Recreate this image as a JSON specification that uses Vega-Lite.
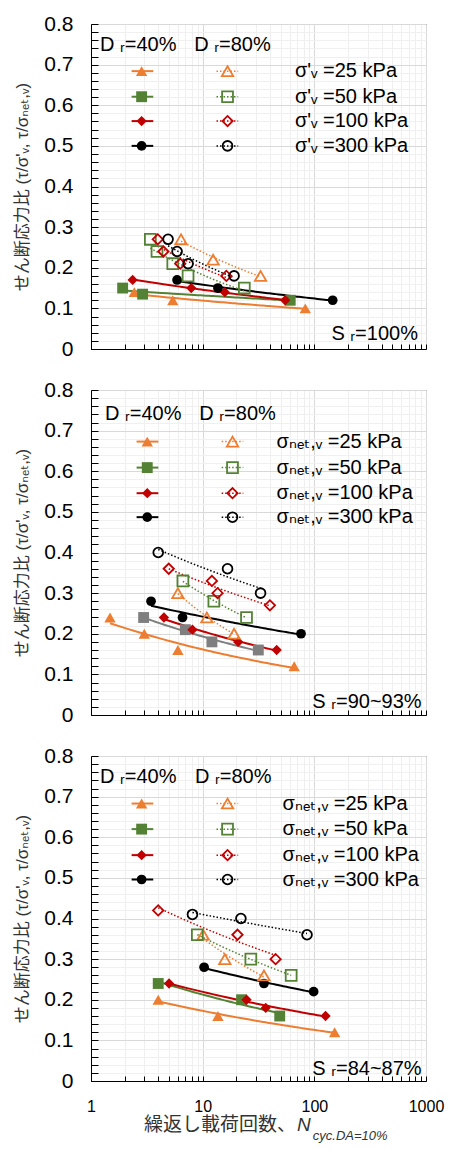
{
  "$schema": "https://vega.github.io/schema/vega-lite/v6.json",
  "background": "white",
  "padding": {"left": 13, "top": 12, "right": 5, "bottom": 5},
  "spacing": 18,
  "config": {
    "font": "Liberation Sans, Noto Sans CJK JP, DejaVu Sans",
    "view": {"stroke": "#404040", "strokeWidth": 1}
  },
  "datasets": {
    "pts": [
      {"panel": 1, "Dr": "40%", "sigma": "25", "N": 2.44, "ratio": 0.14},
      {"panel": 1, "Dr": "40%", "sigma": "25", "N": 5.4, "ratio": 0.12},
      {"panel": 1, "Dr": "40%", "sigma": "25", "N": 83, "ratio": 0.10},
      {"panel": 1, "Dr": "40%", "sigma": "50", "N": 1.92, "ratio": 0.15},
      {"panel": 1, "Dr": "40%", "sigma": "50", "N": 2.9, "ratio": 0.135},
      {"panel": 1, "Dr": "40%", "sigma": "50", "N": 60.8, "ratio": 0.12},
      {"panel": 1, "Dr": "40%", "sigma": "100", "N": 2.36, "ratio": 0.17},
      {"panel": 1, "Dr": "40%", "sigma": "100", "N": 7.9, "ratio": 0.15},
      {"panel": 1, "Dr": "40%", "sigma": "100", "N": 15.8, "ratio": 0.14},
      {"panel": 1, "Dr": "40%", "sigma": "100", "N": 54.8, "ratio": 0.12},
      {"panel": 1, "Dr": "40%", "sigma": "300", "N": 5.9, "ratio": 0.17},
      {"panel": 1, "Dr": "40%", "sigma": "300", "N": 13.7, "ratio": 0.15},
      {"panel": 1, "Dr": "40%", "sigma": "300", "N": 146, "ratio": 0.12},
      {"panel": 1, "Dr": "80%", "sigma": "25", "N": 6.4, "ratio": 0.27},
      {"panel": 1, "Dr": "80%", "sigma": "25", "N": 12.4, "ratio": 0.22},
      {"panel": 1, "Dr": "80%", "sigma": "25", "N": 33, "ratio": 0.18},
      {"panel": 1, "Dr": "80%", "sigma": "50", "N": 3.4, "ratio": 0.27},
      {"panel": 1, "Dr": "80%", "sigma": "50", "N": 3.9, "ratio": 0.24},
      {"panel": 1, "Dr": "80%", "sigma": "50", "N": 5.4, "ratio": 0.21},
      {"panel": 1, "Dr": "80%", "sigma": "50", "N": 7.4, "ratio": 0.18},
      {"panel": 1, "Dr": "80%", "sigma": "50", "N": 23.6, "ratio": 0.15},
      {"panel": 1, "Dr": "80%", "sigma": "100", "N": 3.96, "ratio": 0.27},
      {"panel": 1, "Dr": "80%", "sigma": "100", "N": 4.45, "ratio": 0.24},
      {"panel": 1, "Dr": "80%", "sigma": "100", "N": 6.3, "ratio": 0.21},
      {"panel": 1, "Dr": "80%", "sigma": "100", "N": 16.3, "ratio": 0.18},
      {"panel": 1, "Dr": "80%", "sigma": "300", "N": 4.9, "ratio": 0.27},
      {"panel": 1, "Dr": "80%", "sigma": "300", "N": 5.9, "ratio": 0.24},
      {"panel": 1, "Dr": "80%", "sigma": "300", "N": 7.4, "ratio": 0.21},
      {"panel": 1, "Dr": "80%", "sigma": "300", "N": 19.1, "ratio": 0.18},
      {"panel": 2, "Dr": "40%", "sigma": "25", "N": 1.48, "ratio": 0.24},
      {"panel": 2, "Dr": "40%", "sigma": "25", "N": 3.0, "ratio": 0.20},
      {"panel": 2, "Dr": "40%", "sigma": "25", "N": 6.0, "ratio": 0.16},
      {"panel": 2, "Dr": "40%", "sigma": "25", "N": 66, "ratio": 0.12},
      {"panel": 2, "Dr": "40%", "sigma": "50", "N": 2.96, "ratio": 0.24},
      {"panel": 2, "Dr": "40%", "sigma": "50", "N": 7.0, "ratio": 0.21},
      {"panel": 2, "Dr": "40%", "sigma": "50", "N": 12.1, "ratio": 0.18},
      {"panel": 2, "Dr": "40%", "sigma": "50", "N": 31.5, "ratio": 0.16},
      {"panel": 2, "Dr": "40%", "sigma": "100", "N": 4.5, "ratio": 0.24},
      {"panel": 2, "Dr": "40%", "sigma": "100", "N": 8.1, "ratio": 0.21},
      {"panel": 2, "Dr": "40%", "sigma": "100", "N": 20.8, "ratio": 0.18},
      {"panel": 2, "Dr": "40%", "sigma": "100", "N": 46, "ratio": 0.16},
      {"panel": 2, "Dr": "40%", "sigma": "300", "N": 3.45, "ratio": 0.28},
      {"panel": 2, "Dr": "40%", "sigma": "300", "N": 6.6, "ratio": 0.24},
      {"panel": 2, "Dr": "40%", "sigma": "300", "N": 76, "ratio": 0.20},
      {"panel": 2, "Dr": "80%", "sigma": "25", "N": 6.0, "ratio": 0.30},
      {"panel": 2, "Dr": "80%", "sigma": "25", "N": 10.9, "ratio": 0.24},
      {"panel": 2, "Dr": "80%", "sigma": "25", "N": 19.1, "ratio": 0.20},
      {"panel": 2, "Dr": "80%", "sigma": "50", "N": 6.65, "ratio": 0.33},
      {"panel": 2, "Dr": "80%", "sigma": "50", "N": 12.6, "ratio": 0.28},
      {"panel": 2, "Dr": "80%", "sigma": "50", "N": 24.7, "ratio": 0.24},
      {"panel": 2, "Dr": "80%", "sigma": "100", "N": 4.97, "ratio": 0.36},
      {"panel": 2, "Dr": "80%", "sigma": "100", "N": 12.1, "ratio": 0.33},
      {"panel": 2, "Dr": "80%", "sigma": "100", "N": 13.6, "ratio": 0.30},
      {"panel": 2, "Dr": "80%", "sigma": "100", "N": 40, "ratio": 0.27},
      {"panel": 2, "Dr": "80%", "sigma": "300", "N": 4.0, "ratio": 0.40},
      {"panel": 2, "Dr": "80%", "sigma": "300", "N": 16.7, "ratio": 0.36},
      {"panel": 2, "Dr": "80%", "sigma": "300", "N": 33, "ratio": 0.30},
      {"panel": 3, "Dr": "40%", "sigma": "25", "N": 4.0, "ratio": 0.20},
      {"panel": 3, "Dr": "40%", "sigma": "25", "N": 13.7, "ratio": 0.16},
      {"panel": 3, "Dr": "40%", "sigma": "25", "N": 152, "ratio": 0.12},
      {"panel": 3, "Dr": "40%", "sigma": "50", "N": 4.0, "ratio": 0.24},
      {"panel": 3, "Dr": "40%", "sigma": "50", "N": 22.3, "ratio": 0.20},
      {"panel": 3, "Dr": "40%", "sigma": "50", "N": 49, "ratio": 0.16},
      {"panel": 3, "Dr": "40%", "sigma": "100", "N": 5.0, "ratio": 0.24},
      {"panel": 3, "Dr": "40%", "sigma": "100", "N": 24.7, "ratio": 0.20},
      {"panel": 3, "Dr": "40%", "sigma": "100", "N": 36.7, "ratio": 0.18},
      {"panel": 3, "Dr": "40%", "sigma": "100", "N": 126, "ratio": 0.16},
      {"panel": 3, "Dr": "40%", "sigma": "300", "N": 10.3, "ratio": 0.28},
      {"panel": 3, "Dr": "40%", "sigma": "300", "N": 35.4, "ratio": 0.24},
      {"panel": 3, "Dr": "40%", "sigma": "300", "N": 98.6, "ratio": 0.22},
      {"panel": 3, "Dr": "80%", "sigma": "25", "N": 10.1, "ratio": 0.36},
      {"panel": 3, "Dr": "80%", "sigma": "25", "N": 15.8, "ratio": 0.30},
      {"panel": 3, "Dr": "80%", "sigma": "25", "N": 35.4, "ratio": 0.26},
      {"panel": 3, "Dr": "80%", "sigma": "50", "N": 8.96, "ratio": 0.36},
      {"panel": 3, "Dr": "80%", "sigma": "50", "N": 27, "ratio": 0.30},
      {"panel": 3, "Dr": "80%", "sigma": "50", "N": 62, "ratio": 0.26},
      {"panel": 3, "Dr": "80%", "sigma": "100", "N": 4.0, "ratio": 0.42},
      {"panel": 3, "Dr": "80%", "sigma": "100", "N": 20.5, "ratio": 0.36},
      {"panel": 3, "Dr": "80%", "sigma": "100", "N": 45, "ratio": 0.30},
      {"panel": 3, "Dr": "80%", "sigma": "300", "N": 8.1, "ratio": 0.41},
      {"panel": 3, "Dr": "80%", "sigma": "300", "N": 22, "ratio": 0.40},
      {"panel": 3, "Dr": "80%", "sigma": "300", "N": 86, "ratio": 0.36}
    ],
    "leg": [
      {"panel": 1, "sigma": "25", "ratio": 0.684, "label": "σ'ᵥ =25 kPa"},
      {"panel": 1, "sigma": "50", "ratio": 0.621, "label": "σ'ᵥ =50 kPa"},
      {"panel": 1, "sigma": "100", "ratio": 0.561, "label": "σ'ᵥ =100 kPa"},
      {"panel": 1, "sigma": "300", "ratio": 0.5, "label": "σ'ᵥ =300 kPa"},
      {"panel": 2, "sigma": "25", "ratio": 0.673, "label": "σₙₑₜ,ᵥ =25 kPa"},
      {"panel": 2, "sigma": "50", "ratio": 0.609, "label": "σₙₑₜ,ᵥ =50 kPa"},
      {"panel": 2, "sigma": "100", "ratio": 0.546, "label": "σₙₑₜ,ᵥ =100 kPa"},
      {"panel": 2, "sigma": "300", "ratio": 0.487, "label": "σₙₑₜ,ᵥ =300 kPa"},
      {"panel": 3, "sigma": "25", "ratio": 0.683, "label": "σₙₑₜ,ᵥ =25 kPa"},
      {"panel": 3, "sigma": "50", "ratio": 0.620, "label": "σₙₑₜ,ᵥ =50 kPa"},
      {"panel": 3, "sigma": "100", "ratio": 0.556, "label": "σₙₑₜ,ᵥ =100 kPa"},
      {"panel": 3, "sigma": "300", "ratio": 0.496, "label": "σₙₑₜ,ᵥ =300 kPa"}
    ]
  },
  "vconcat": [
    {
      "width": 335, "height": 325,
      "layer": [
        {
          "data": {"name": "pts"},
          "transform": [{"filter": "datum.panel==1 && datum.Dr=='40%'"}, {"regression": "ratio", "on": "N", "method": "pow", "groupby": ["sigma"]}],
          "mark": {"type": "line", "strokeWidth": 2},
          "encoding": {
            "x": {"field": "N", "type": "quantitative", "scale": {"type": "log", "domain": [1, 1000]},
              "axis": {"values": [1,2,3,4,5,6,7,8,9,10,20,30,40,50,60,70,80,90,100,200,300,400,500,600,700,800,900,1000], "tickCount": 200, "labels": false, "tickSize": -5, "tickColor": "#000", "domainColor": "#000", "title": null,
                "gridColor": {"condition": {"test": "datum.value==1||datum.value==10||datum.value==100||datum.value==1000", "value": "#d9d9d9"}, "value": "#efefef"}}},
            "y": {"field": "ratio", "type": "quantitative", "scale": {"domain": [0, 0.8]},
              "axis": {"values": [0,0.02,0.04,0.06,0.08,0.1,0.12,0.14,0.16,0.18,0.2,0.22,0.24,0.26,0.28,0.3,0.32,0.34,0.36,0.38,0.4,0.42,0.44,0.46,0.48,0.5,0.52,0.54,0.56,0.58,0.6,0.62,0.64,0.66,0.68,0.7,0.72,0.74,0.76,0.78,0.8], "tickCount": 200,
                "labelExpr": "abs(datum.value*10-round(datum.value*10))<0.001 ? (datum.value==0 ? '0' : format(datum.value,'.1f')) : ''",
                "labelOverlap": false, "labelFlush": false, "labelFontSize": 21, "labelColor": "#000", "labelPadding": 25, "tickSize": -7, "tickColor": "#000", "domainColor": "#000",
                "gridColor": {"condition": {"test": "abs(datum.value*10-round(datum.value*10))<0.001", "value": "#d9d9d9"}, "value": "#f0f0f0"},
                "title": "せん断応力比 (τ/σ'ᵥ, τ/σₙₑₜ,ᵥ)", "titleFontSize": 17, "titleFontWeight": "normal", "titleColor": "#333", "titlePadding": 12}},
            "color": {"field": "sigma", "type": "nominal", "scale": {"domain": ["25","50","100","300"], "range": ["#ED7D31","#548235","#C00000","#000000"]}, "legend": null}
          }
        },
        {
          "data": {"name": "pts"},
          "transform": [{"filter": "datum.panel==1 && datum.Dr=='80%'"}, {"regression": "ratio", "on": "N", "method": "pow", "groupby": ["sigma"]}],
          "mark": {"type": "line", "strokeWidth": 1.5, "strokeDash": [1.5, 2]},
          "encoding": {"x": {"field": "N", "type": "quantitative"}, "y": {"field": "ratio", "type": "quantitative"}, "color": {"field": "sigma", "type": "nominal", "legend": null}}
        },
        {
          "data": {"name": "pts"},
          "transform": [{"filter": "datum.panel==1 && datum.Dr=='40%'"}],
          "mark": {"type": "point", "filled": true, "opacity": 1},
          "encoding": {"x": {"field": "N", "type": "quantitative"}, "y": {"field": "ratio", "type": "quantitative"}, "color": {"field": "sigma", "type": "nominal", "legend": null},
            "shape": {"field": "sigma", "type": "nominal", "scale": {"domain": ["25","50","100","300"], "range": ["triangle-up","square","diamond","circle"]}, "legend": null},
            "size": {"field": "sigma", "type": "nominal", "scale": {"domain": ["25","50","100","300"], "range": [130, 95, 85, 95]}, "legend": null}}
        },
        {
          "data": {"name": "pts"},
          "transform": [{"filter": "datum.panel==1 && datum.Dr=='80%'"}],
          "mark": {"type": "point", "filled": false, "strokeWidth": 1.8, "opacity": 1},
          "encoding": {"x": {"field": "N", "type": "quantitative"}, "y": {"field": "ratio", "type": "quantitative"}, "color": {"field": "sigma", "type": "nominal", "legend": null}, "shape": {"field": "sigma", "type": "nominal", "legend": null}, "size": {"field": "sigma", "type": "nominal", "legend": null}}
        },
        {
          "data": {"name": "leg"}, "transform": [{"filter": "datum.panel==1"}],
          "mark": {"type": "rule", "strokeWidth": 2},
          "encoding": {"x": {"datum": 2.31}, "x2": {"datum": 3.61}, "y": {"field": "ratio", "type": "quantitative"}, "color": {"field": "sigma", "type": "nominal", "legend": null}}
        },
        {
          "data": {"name": "leg"}, "transform": [{"filter": "datum.panel==1"}],
          "mark": {"type": "rule", "strokeWidth": 1.5, "strokeDash": [1.5, 2]},
          "encoding": {"x": {"datum": 13.3}, "x2": {"datum": 20.8}, "y": {"field": "ratio", "type": "quantitative"}, "color": {"field": "sigma", "type": "nominal", "legend": null}}
        },
        {
          "data": {"name": "leg"}, "transform": [{"filter": "datum.panel==1"}],
          "mark": {"type": "point", "filled": true, "opacity": 1},
          "encoding": {"x": {"datum": 2.84}, "y": {"field": "ratio", "type": "quantitative"}, "color": {"field": "sigma", "type": "nominal", "legend": null}, "shape": {"field": "sigma", "type": "nominal", "legend": null}, "size": {"field": "sigma", "type": "nominal", "legend": null}}
        },
        {
          "data": {"name": "leg"}, "transform": [{"filter": "datum.panel==1"}],
          "mark": {"type": "point", "filled": false, "strokeWidth": 1.8, "opacity": 1},
          "encoding": {"x": {"datum": 16.7}, "y": {"field": "ratio", "type": "quantitative"}, "color": {"field": "sigma", "type": "nominal", "legend": null}, "shape": {"field": "sigma", "type": "nominal", "legend": null}, "size": {"field": "sigma", "type": "nominal", "legend": null}}
        },
        {
          "data": {"name": "leg"}, "transform": [{"filter": "datum.panel==1"}],
          "mark": {"type": "text", "align": "left", "baseline": "middle", "fontSize": 20, "color": "#000"},
          "encoding": {"x": {"datum": 67}, "y": {"field": "ratio", "type": "quantitative"}, "text": {"field": "label"}}
        },
        {
          "data": {"values": [{}]},
          "mark": {"type": "text", "align": "left", "baseline": "middle", "fontSize": 20, "color": "#000"},
          "encoding": {"x": {"datum": 1.204}, "y": {"datum": 0.749}, "text": {"value": "D ᵣ=40%"}}
        },
        {
          "data": {"values": [{}]},
          "mark": {"type": "text", "align": "left", "baseline": "middle", "fontSize": 20, "color": "#000"},
          "encoding": {"x": {"datum": 8.41}, "y": {"datum": 0.749}, "text": {"value": "D ᵣ=80%"}}
        },
        {
          "data": {"values": [{}]},
          "mark": {"type": "text", "align": "right", "baseline": "middle", "fontSize": 20, "color": "#000"},
          "encoding": {"x": {"datum": 847}, "y": {"datum": 0.038}, "text": {"value": "S ᵣ=100%"}}
        }
      ]
    },
    {
      "width": 335, "height": 325,
      "resolve": {"scale": {"color": "independent"}},
      "layer": [
        {
          "data": {"name": "pts"},
          "transform": [{"filter": "datum.panel==2 && datum.Dr=='40%'"}, {"regression": "ratio", "on": "N", "method": "pow", "groupby": ["sigma"]}],
          "mark": {"type": "line", "strokeWidth": 2},
          "encoding": {
            "x": {"field": "N", "type": "quantitative", "scale": {"type": "log", "domain": [1, 1000]},
              "axis": {"values": [1,2,3,4,5,6,7,8,9,10,20,30,40,50,60,70,80,90,100,200,300,400,500,600,700,800,900,1000], "tickCount": 200, "labels": false, "tickSize": -5, "tickColor": "#000", "domainColor": "#000", "title": null,
                "gridColor": {"condition": {"test": "datum.value==1||datum.value==10||datum.value==100||datum.value==1000", "value": "#d9d9d9"}, "value": "#efefef"}}},
            "y": {"field": "ratio", "type": "quantitative", "scale": {"domain": [0, 0.8]},
              "axis": {"values": [0,0.02,0.04,0.06,0.08,0.1,0.12,0.14,0.16,0.18,0.2,0.22,0.24,0.26,0.28,0.3,0.32,0.34,0.36,0.38,0.4,0.42,0.44,0.46,0.48,0.5,0.52,0.54,0.56,0.58,0.6,0.62,0.64,0.66,0.68,0.7,0.72,0.74,0.76,0.78,0.8], "tickCount": 200,
                "labelExpr": "abs(datum.value*10-round(datum.value*10))<0.001 ? (datum.value==0 ? '0' : format(datum.value,'.1f')) : ''",
                "labelOverlap": false, "labelFlush": false, "labelFontSize": 21, "labelColor": "#000", "labelPadding": 25, "tickSize": -7, "tickColor": "#000", "domainColor": "#000",
                "gridColor": {"condition": {"test": "abs(datum.value*10-round(datum.value*10))<0.001", "value": "#d9d9d9"}, "value": "#f0f0f0"},
                "title": "せん断応力比 (τ/σ'ᵥ, τ/σₙₑₜ,ᵥ)", "titleFontSize": 17, "titleFontWeight": "normal", "titleColor": "#333", "titlePadding": 12}},
            "color": {"field": "sigma", "type": "nominal", "scale": {"domain": ["25","50","100","300"], "range": ["#ED7D31","#7F7F7F","#C00000","#000000"]}, "legend": null}
          }
        },
        {
          "data": {"name": "pts"},
          "transform": [{"filter": "datum.panel==2 && datum.Dr=='80%'"}, {"regression": "ratio", "on": "N", "method": "pow", "groupby": ["sigma"]}],
          "mark": {"type": "line", "strokeWidth": 1.5, "strokeDash": [1.5, 2]},
          "encoding": {"x": {"field": "N", "type": "quantitative"}, "y": {"field": "ratio", "type": "quantitative"}, "color": {"field": "sigma", "type": "nominal", "scale": {"domain": ["25","50","100","300"], "range": ["#ED7D31","#548235","#C00000","#000000"]}, "legend": null}}
        },
        {
          "data": {"name": "pts"},
          "transform": [{"filter": "datum.panel==2 && datum.Dr=='40%'"}],
          "mark": {"type": "point", "filled": true, "opacity": 1},
          "encoding": {"x": {"field": "N", "type": "quantitative"}, "y": {"field": "ratio", "type": "quantitative"}, "color": {"field": "sigma", "type": "nominal", "scale": {"domain": ["25","50","100","300"], "range": ["#ED7D31","#7F7F7F","#C00000","#000000"]}, "legend": null},
            "shape": {"field": "sigma", "type": "nominal", "scale": {"domain": ["25","50","100","300"], "range": ["triangle-up","square","diamond","circle"]}, "legend": null},
            "size": {"field": "sigma", "type": "nominal", "scale": {"domain": ["25","50","100","300"], "range": [130, 95, 85, 95]}, "legend": null}}
        },
        {
          "data": {"name": "pts"},
          "transform": [{"filter": "datum.panel==2 && datum.Dr=='80%'"}],
          "mark": {"type": "point", "filled": false, "strokeWidth": 1.8, "opacity": 1},
          "encoding": {"x": {"field": "N", "type": "quantitative"}, "y": {"field": "ratio", "type": "quantitative"}, "color": {"field": "sigma", "type": "nominal", "scale": {"domain": ["25","50","100","300"], "range": ["#ED7D31","#548235","#C00000","#000000"]}, "legend": null}, "shape": {"field": "sigma", "type": "nominal", "legend": null}, "size": {"field": "sigma", "type": "nominal", "legend": null}}
        },
        {
          "data": {"name": "leg"}, "transform": [{"filter": "datum.panel==2"}],
          "mark": {"type": "rule", "strokeWidth": 2},
          "encoding": {"x": {"datum": 2.56}, "x2": {"datum": 4.01}, "y": {"field": "ratio", "type": "quantitative"}, "color": {"field": "sigma", "type": "nominal", "scale": {"domain": ["25","50","100","300"], "range": ["#ED7D31","#548235","#C00000","#000000"]}, "legend": null}}
        },
        {
          "data": {"name": "leg"}, "transform": [{"filter": "datum.panel==2"}],
          "mark": {"type": "rule", "strokeWidth": 1.5, "strokeDash": [1.5, 2]},
          "encoding": {"x": {"datum": 14.8}, "x2": {"datum": 23.1}, "y": {"field": "ratio", "type": "quantitative"}, "color": {"field": "sigma", "type": "nominal", "scale": {"domain": ["25","50","100","300"], "range": ["#ED7D31","#548235","#C00000","#000000"]}, "legend": null}}
        },
        {
          "data": {"name": "leg"}, "transform": [{"filter": "datum.panel==2"}],
          "mark": {"type": "point", "filled": true, "opacity": 1},
          "encoding": {"x": {"datum": 3.19}, "y": {"field": "ratio", "type": "quantitative"}, "color": {"field": "sigma", "type": "nominal", "scale": {"domain": ["25","50","100","300"], "range": ["#ED7D31","#548235","#C00000","#000000"]}, "legend": null}, "shape": {"field": "sigma", "type": "nominal", "legend": null}, "size": {"field": "sigma", "type": "nominal", "legend": null}}
        },
        {
          "data": {"name": "leg"}, "transform": [{"filter": "datum.panel==2"}],
          "mark": {"type": "point", "filled": false, "strokeWidth": 1.8, "opacity": 1},
          "encoding": {"x": {"datum": 18.5}, "y": {"field": "ratio", "type": "quantitative"}, "color": {"field": "sigma", "type": "nominal", "scale": {"domain": ["25","50","100","300"], "range": ["#ED7D31","#548235","#C00000","#000000"]}, "legend": null}, "shape": {"field": "sigma", "type": "nominal", "legend": null}, "size": {"field": "sigma", "type": "nominal", "legend": null}}
        },
        {
          "data": {"name": "leg"}, "transform": [{"filter": "datum.panel==2"}],
          "mark": {"type": "text", "align": "left", "baseline": "middle", "fontSize": 20, "color": "#000"},
          "encoding": {"x": {"datum": 45.9}, "y": {"field": "ratio", "type": "quantitative"}, "text": {"field": "label"}}
        },
        {
          "data": {"values": [{}]},
          "mark": {"type": "text", "align": "left", "baseline": "middle", "fontSize": 20, "color": "#000"},
          "encoding": {"x": {"datum": 1.335}, "y": {"datum": 0.74}, "text": {"value": "D ᵣ=40%"}}
        },
        {
          "data": {"values": [{}]},
          "mark": {"type": "text", "align": "left", "baseline": "middle", "fontSize": 20, "color": "#000"},
          "encoding": {"x": {"datum": 9.33}, "y": {"datum": 0.74}, "text": {"value": "D ᵣ=80%"}}
        },
        {
          "data": {"values": [{}]},
          "mark": {"type": "text", "align": "right", "baseline": "middle", "fontSize": 20, "color": "#000"},
          "encoding": {"x": {"datum": 914}, "y": {"datum": 0.031}, "text": {"value": "S ᵣ=90~93%"}}
        }
      ]
    },
    {
      "width": 335, "height": 325,
      "layer": [
        {
          "data": {"name": "pts"},
          "transform": [{"filter": "datum.panel==3 && datum.Dr=='40%'"}, {"regression": "ratio", "on": "N", "method": "pow", "groupby": ["sigma"]}],
          "mark": {"type": "line", "strokeWidth": 2},
          "encoding": {
            "x": {"field": "N", "type": "quantitative", "scale": {"type": "log", "domain": [1, 1000]},
              "axis": {"values": [1,2,3,4,5,6,7,8,9,10,20,30,40,50,60,70,80,90,100,200,300,400,500,600,700,800,900,1000], "tickCount": 200,
                "labelExpr": "datum.value==1||datum.value==10||datum.value==100||datum.value==1000 ? format(datum.value,'d') : ''",
                "labelOverlap": false, "labelFlush": false, "labelFontSize": 16, "labelColor": "#000", "labelPadding": 22, "tickSize": -5, "tickColor": "#000", "domainColor": "#000", "title": null,
                "gridColor": {"condition": {"test": "datum.value==1||datum.value==10||datum.value==100||datum.value==1000", "value": "#d9d9d9"}, "value": "#efefef"}}},
            "y": {"field": "ratio", "type": "quantitative", "scale": {"domain": [0, 0.8]},
              "axis": {"values": [0,0.02,0.04,0.06,0.08,0.1,0.12,0.14,0.16,0.18,0.2,0.22,0.24,0.26,0.28,0.3,0.32,0.34,0.36,0.38,0.4,0.42,0.44,0.46,0.48,0.5,0.52,0.54,0.56,0.58,0.6,0.62,0.64,0.66,0.68,0.7,0.72,0.74,0.76,0.78,0.8], "tickCount": 200,
                "labelExpr": "abs(datum.value*10-round(datum.value*10))<0.001 ? (datum.value==0 ? '0' : format(datum.value,'.1f')) : ''",
                "labelOverlap": false, "labelFlush": false, "labelFontSize": 21, "labelColor": "#000", "labelPadding": 25, "tickSize": -7, "tickColor": "#000", "domainColor": "#000",
                "gridColor": {"condition": {"test": "abs(datum.value*10-round(datum.value*10))<0.001", "value": "#d9d9d9"}, "value": "#f0f0f0"},
                "title": "せん断応力比 (τ/σ'ᵥ, τ/σₙₑₜ,ᵥ)", "titleFontSize": 17, "titleFontWeight": "normal", "titleColor": "#333", "titlePadding": 12}},
            "color": {"field": "sigma", "type": "nominal", "scale": {"domain": ["25","50","100","300"], "range": ["#ED7D31","#548235","#C00000","#000000"]}, "legend": null}
          }
        },
        {
          "data": {"name": "pts"},
          "transform": [{"filter": "datum.panel==3 && datum.Dr=='80%'"}, {"regression": "ratio", "on": "N", "method": "pow", "groupby": ["sigma"]}],
          "mark": {"type": "line", "strokeWidth": 1.5, "strokeDash": [1.5, 2]},
          "encoding": {"x": {"field": "N", "type": "quantitative"}, "y": {"field": "ratio", "type": "quantitative"}, "color": {"field": "sigma", "type": "nominal", "legend": null}}
        },
        {
          "data": {"name": "pts"},
          "transform": [{"filter": "datum.panel==3 && datum.Dr=='40%'"}],
          "mark": {"type": "point", "filled": true, "opacity": 1},
          "encoding": {"x": {"field": "N", "type": "quantitative"}, "y": {"field": "ratio", "type": "quantitative"}, "color": {"field": "sigma", "type": "nominal", "legend": null},
            "shape": {"field": "sigma", "type": "nominal", "scale": {"domain": ["25","50","100","300"], "range": ["triangle-up","square","diamond","circle"]}, "legend": null},
            "size": {"field": "sigma", "type": "nominal", "scale": {"domain": ["25","50","100","300"], "range": [130, 95, 85, 95]}, "legend": null}}
        },
        {
          "data": {"name": "pts"},
          "transform": [{"filter": "datum.panel==3 && datum.Dr=='80%'"}],
          "mark": {"type": "point", "filled": false, "strokeWidth": 1.8, "opacity": 1},
          "encoding": {"x": {"field": "N", "type": "quantitative"}, "y": {"field": "ratio", "type": "quantitative"}, "color": {"field": "sigma", "type": "nominal", "legend": null}, "shape": {"field": "sigma", "type": "nominal", "legend": null}, "size": {"field": "sigma", "type": "nominal", "legend": null}}
        },
        {
          "data": {"name": "leg"}, "transform": [{"filter": "datum.panel==3"}],
          "mark": {"type": "rule", "strokeWidth": 2},
          "encoding": {"x": {"datum": 2.31}, "x2": {"datum": 3.61}, "y": {"field": "ratio", "type": "quantitative"}, "color": {"field": "sigma", "type": "nominal", "legend": null}}
        },
        {
          "data": {"name": "leg"}, "transform": [{"filter": "datum.panel==3"}],
          "mark": {"type": "rule", "strokeWidth": 1.5, "strokeDash": [1.5, 2]},
          "encoding": {"x": {"datum": 13.3}, "x2": {"datum": 20.8}, "y": {"field": "ratio", "type": "quantitative"}, "color": {"field": "sigma", "type": "nominal", "legend": null}}
        },
        {
          "data": {"name": "leg"}, "transform": [{"filter": "datum.panel==3"}],
          "mark": {"type": "point", "filled": true, "opacity": 1},
          "encoding": {"x": {"datum": 2.84}, "y": {"field": "ratio", "type": "quantitative"}, "color": {"field": "sigma", "type": "nominal", "legend": null}, "shape": {"field": "sigma", "type": "nominal", "legend": null}, "size": {"field": "sigma", "type": "nominal", "legend": null}}
        },
        {
          "data": {"name": "leg"}, "transform": [{"filter": "datum.panel==3"}],
          "mark": {"type": "point", "filled": false, "strokeWidth": 1.8, "opacity": 1},
          "encoding": {"x": {"datum": 16.7}, "y": {"field": "ratio", "type": "quantitative"}, "color": {"field": "sigma", "type": "nominal", "legend": null}, "shape": {"field": "sigma", "type": "nominal", "legend": null}, "size": {"field": "sigma", "type": "nominal", "legend": null}}
        },
        {
          "data": {"name": "leg"}, "transform": [{"filter": "datum.panel==3"}],
          "mark": {"type": "text", "align": "left", "baseline": "middle", "fontSize": 20, "color": "#000"},
          "encoding": {"x": {"datum": 52}, "y": {"field": "ratio", "type": "quantitative"}, "text": {"field": "label"}}
        },
        {
          "data": {"values": [{}]},
          "mark": {"type": "text", "align": "left", "baseline": "middle", "fontSize": 20, "color": "#000"},
          "encoding": {"x": {"datum": 1.204}, "y": {"datum": 0.748}, "text": {"value": "D ᵣ=40%"}}
        },
        {
          "data": {"values": [{}]},
          "mark": {"type": "text", "align": "left", "baseline": "middle", "fontSize": 20, "color": "#000"},
          "encoding": {"x": {"datum": 8.53}, "y": {"datum": 0.748}, "text": {"value": "D ᵣ=80%"}}
        },
        {
          "data": {"values": [{}]},
          "mark": {"type": "text", "align": "right", "baseline": "middle", "fontSize": 20, "color": "#000"},
          "encoding": {"x": {"datum": 914}, "y": {"datum": 0.029}, "text": {"value": "S ᵣ=84~87%"}}
        },
        {
          "data": {"values": [{}]},
          "mark": {"type": "text", "align": "right", "baseline": "middle", "fontSize": 19, "color": "#333", "dy": 44},
          "encoding": {"x": {"datum": 68.4}, "y": {"datum": 0}, "text": {"value": "繰返し載荷回数、"}}
        },
        {
          "data": {"values": [{}]},
          "mark": {"type": "text", "align": "left", "baseline": "middle", "fontSize": 19, "fontStyle": "italic", "color": "#333", "dy": 44},
          "encoding": {"x": {"datum": 69.9}, "y": {"datum": 0}, "text": {"value": "N"}}
        },
        {
          "data": {"values": [{}]},
          "mark": {"type": "text", "align": "left", "baseline": "middle", "fontSize": 13, "fontStyle": "italic", "color": "#333", "dy": 55},
          "encoding": {"x": {"datum": 97}, "y": {"datum": 0}, "text": {"value": "cyc.DA=10%"}}
        }
      ]
    }
  ]
}
